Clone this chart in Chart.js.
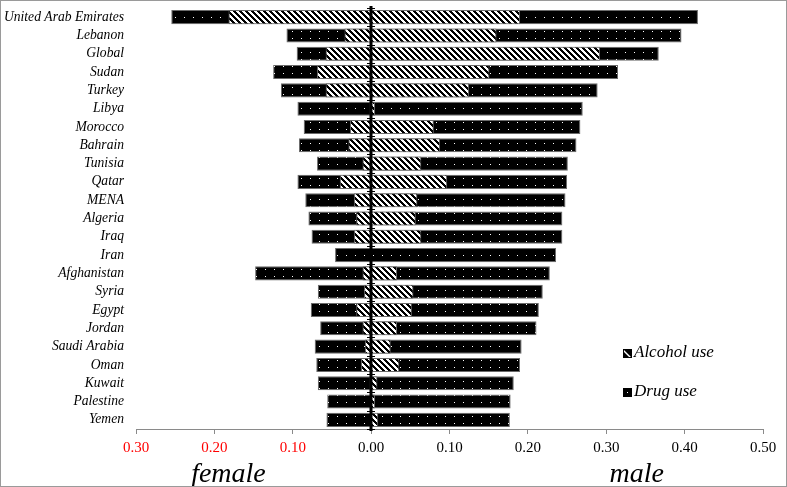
<!DOCTYPE html>
<html>
<head>
<meta charset="utf-8">
<script src="https://cdn.jsdelivr.net/npm/chart.js@4"></script>
<style>
  html, body { margin: 0; padding: 0; background: #fff; }
  #wrap { width: 787px; height: 487px; position: relative; }
</style>
</head>
<body>
<div id="wrap"><canvas id="myChart" width="787" height="487"></canvas></div>
<script>
const categories = ['United Arab Emirates', 'Lebanon', 'Global', 'Sudan', 'Turkey', 'Libya', 'Morocco', 'Bahrain',
	'Tunisia', 'Qatar', 'MENA', 'Algeria', 'Iraq', 'Iran', 'Afghanistan', 'Syria', 'Egypt', 'Jordan',
	'Saudi Arabia', 'Oman', 'Kuwait', 'Palestine', 'Yemen'];
const femaleAlcohol = [0.182, 0.034, 0.058, 0.069, 0.058, 0.002, 0.027, 0.029, 0.011, 0.040, 0.022, 0.019,
	0.022, 0.001, 0.011, 0.009, 0.019, 0.011, 0.008, 0.013, 0.002, 0.001, 0.001];
const maleAlcohol = [0.190, 0.160, 0.292, 0.151, 0.125, 0.005, 0.080, 0.088, 0.064, 0.097, 0.059, 0.057,
	0.064, 0.001, 0.033, 0.054, 0.052, 0.033, 0.025, 0.036, 0.008, 0.005, 0.009];
const femaleDrug = [0.255, 0.108, 0.095, 0.125, 0.115, 0.094, 0.086, 0.092, 0.069, 0.094, 0.084, 0.080,
	0.076, 0.046, 0.148, 0.068, 0.077, 0.065, 0.072, 0.070, 0.068, 0.056, 0.057];
const maleDrug = [0.417, 0.396, 0.367, 0.315, 0.289, 0.270, 0.267, 0.262, 0.251, 0.250, 0.248, 0.244,
	0.244, 0.236, 0.228, 0.219, 0.214, 0.211, 0.192, 0.190, 0.182, 0.178, 0.177];
const tickValues = [-0.3, -0.2, -0.1, 0, 0.1, 0.2, 0.3, 0.4, 0.5];

const serif = "'Liberation Serif', 'Times New Roman', serif";

// hatched fill: white with black "\" stripes, pixel crisp
function hatchPattern() {
	const c = document.createElement('canvas');
	c.width = 6; c.height = 6;
	const g = c.getContext('2d');
	g.fillStyle = '#fff';
	g.fillRect(0, 0, 6, 6);
	g.fillStyle = '#000';
	for (let y = 0; y < 6; y++) {
		for (let k = 0; k < 3; k++) {
			g.fillRect((y + k) % 6, y, 1, 1);
		}
	}
	return g.createPattern(c, 'repeat');
}

// black fill with small white dots
function dotPattern() {
	const c = document.createElement('canvas');
	c.width = 9; c.height = 7;
	const g = c.getContext('2d');
	g.fillStyle = '#000';
	g.fillRect(0, 0, 9, 7);
	g.fillStyle = '#fff';
	g.fillRect(4, 3, 1, 1);
	return g.createPattern(c, 'repeat');
}

const hatch = hatchPattern();
const dots = dotPattern();

const extras = {
	id: 'extras',
	beforeDraw(chart) {
		const ctx = chart.ctx;
		ctx.save();
		ctx.fillStyle = '#fff';
		ctx.fillRect(0, 0, chart.width, chart.height);
		ctx.restore();
	},
	afterDatasetsDraw(chart) {
		const ctx = chart.ctx;
		const area = chart.chartArea;
		const x0 = Math.round(chart.scales.x.getPixelForValue(0));
		ctx.save();
		ctx.strokeStyle = '#000';
		ctx.lineWidth = 3;
		ctx.beginPath();
		ctx.moveTo(x0, area.top - 2);
		ctx.lineTo(x0, area.bottom + 2);
		ctx.stroke();
		ctx.lineWidth = 1;
		const step = (area.bottom - area.top) / categories.length;
		for (let i = 0; i <= categories.length; i++) {
			const y = Math.round(area.top + i * step) + 0.5;
			ctx.beginPath();
			ctx.moveTo(x0 - 4, y);
			ctx.lineTo(x0 + 4, y);
			ctx.stroke();
		}
		ctx.restore();
	},
	afterDraw(chart) {
		const ctx = chart.ctx;
		const xs = chart.scales.x;
		const area = chart.chartArea;
		ctx.save();
		// side titles
		ctx.fillStyle = '#000';
		ctx.font = 'italic 28px ' + serif;
		ctx.textAlign = 'center';
		ctx.textBaseline = 'alphabetic';
		ctx.fillText('female', xs.getPixelForValue(-0.182), chart.height - 5);
		ctx.fillText('male', xs.getPixelForValue(0.339), chart.height - 5);

		// legend
		const lx = xs.getPixelForValue(0.322);
		const items = [
			{text: 'Alcohol use', fill: 'alc', y: area.bottom - 76},
			{text: 'Drug use', fill: 'drug', y: area.bottom - 37}
		];
		items.forEach(it => {
			const bx = Math.round(lx), by = Math.round(it.y - 4);
			ctx.fillStyle = '#000';
			ctx.fillRect(bx, by, 9, 9);
			if (it.fill === 'alc') {
				ctx.fillStyle = '#fff';
				ctx.beginPath();
				ctx.moveTo(bx + 1, by + 1);
				ctx.lineTo(bx + 8, by + 8);
				ctx.lineTo(bx + 1, by + 8);
				ctx.closePath();
				ctx.fill();
				ctx.fillStyle = '#000';
				ctx.beginPath();
				ctx.moveTo(bx + 1, by + 3);
				ctx.lineTo(bx + 6, by + 8);
				ctx.lineTo(bx + 1, by + 8);
				ctx.closePath();
				ctx.fill();
			} else {
				ctx.fillStyle = '#fff';
				ctx.fillRect(bx + 4, by + 4, 1, 1);
			}
			ctx.fillStyle = '#000';
			ctx.font = 'italic 17px ' + serif;
			ctx.textAlign = 'left';
			ctx.textBaseline = 'middle';
			ctx.fillText(it.text, bx + 11, it.y);
		});

		// outer frame
		ctx.strokeStyle = '#9a9a9a';
		ctx.lineWidth = 1;
		ctx.strokeRect(0.5, 0.5, chart.width - 1, chart.height - 1);
		ctx.restore();
	}
};

const data = {
	labels: categories,
	datasets: [{
		label: 'Alcohol use',
		data: categories.map((c, i) => [-femaleAlcohol[i], maleAlcohol[i]]),
		backgroundColor: hatch,
		borderColor: '#6a6a6a',
		borderWidth: 1,
		borderSkipped: false,
		grouped: false,
		order: 0
	}, {
		label: 'Drug use',
		data: categories.map((c, i) => [-femaleDrug[i], maleDrug[i]]),
		backgroundColor: dots,
		borderColor: '#6a6a6a',
		borderWidth: 1,
		borderSkipped: false,
		grouped: false,
		order: 1
	}]
};

const config = {
	type: 'bar',
	data: data,
	options: {
		indexAxis: 'y',
		responsive: false,
		animation: false,
		categoryPercentage: 1,
		barPercentage: 0.77,
		layout: { padding: { top: 8, right: 24, left: 0, bottom: 0 } },
		plugins: {
			legend: { display: false },
			tooltip: { enabled: false }
		},
		scales: {
			x: {
				min: -0.3,
				max: 0.5,
				afterBuildTicks: (scale) => { scale.ticks = tickValues.map(v => ({value: v})); },
				afterFit: (scale) => {
					scale.height = 58;
					scale.paddingLeft = 0;
					scale.paddingRight = 0;
				},
				ticks: {
					padding: 5,
					color: (c) => c.tick.value < -0.001 ? '#ff0000' : '#000',
					font: { family: serif, size: 15 },
					callback: (v) => Math.abs(v).toFixed(2)
				},
				grid: { drawOnChartArea: false, drawTicks: true, tickLength: 5, color: '#8a8a8a' },
				border: { color: '#8a8a8a', width: 1 }
			},
			y: {
				afterFit: (scale) => {
					scale.width = 136;
					scale.paddingTop = 0;
					scale.paddingBottom = 0;
				},
				ticks: {
					autoSkip: false,
					padding: 12,
					color: '#000',
					font: { family: serif, size: 13.6, style: 'italic' }
				},
				grid: { display: false, drawTicks: false },
				border: { display: false }
			}
		}
	},
	plugins: [extras]
};

const myChart = new Chart(document.getElementById('myChart'), config);
</script>
</body>
</html>
